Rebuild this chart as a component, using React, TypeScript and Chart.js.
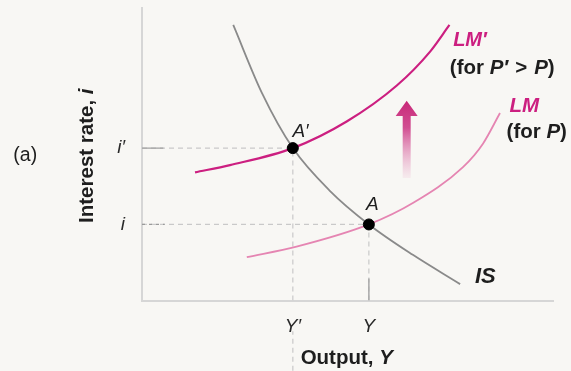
import React, { useEffect, useRef } from "react";
import { Chart, registerables } from "chart.js";

Chart.register(...registerables);

// ---- data (abstract units: output 0..100, interest rate 0..100) ----
const IS_X = [22.2, 29.2, 36.7, 45.7, 55.2, 65.9, 77.4];
const IS_Y = [94.2, 70.9, 52.1, 37.5, 26.0, 15.6, 5.6];

const LMP_X = [12.9, 21.4, 36.7, 49.8, 62.0, 70.1, 74.8];
const LMP_Y = [43.8, 46.3, 52.1, 61.2, 73.5, 85.1, 94.2];

const LM_X = [25.5, 37.6, 55.2, 65.9, 78.1, 83.0, 87.1];
const LM_Y = [14.8, 18.4, 26.0, 33.3, 45.6, 53.7, 64.1];

const EQ_X = [36.7, 55.2]; // Y', Y
const EQ_Y = [52.1, 26.0]; // i', i

const X_TICK_VALUES = [36.7, 55.2];
const X_TICK_LABELS = ["Y\u2032", "Y"];
const Y_TICK_VALUES = [26.0, 52.1];
const Y_TICK_LABELS = ["i", "i\u2032"];

const FONT = '"Liberation Sans", Arial, Helvetica, sans-serif';
const BG = "#f8f7f4";
const MAGENTA = "#cc1f80";
const PINK = "#e585b2";
const TEXT = "#1e1e1e";

const pts = (xs: number[], ys: number[]) => xs.map((x, i) => ({ x, y: ys[i] }));

type Run = { t: string; f: string; c?: string };

function drawRuns(ctx: CanvasRenderingContext2D, runs: Run[], x: number, y: number, align: "left" | "center" = "left", color = TEXT) {
  let total = 0;
  for (const r of runs) {
    ctx.font = r.f;
    total += ctx.measureText(r.t).width;
  }
  let cx = align === "center" ? x - total / 2 : x;
  ctx.textAlign = "left";
  for (const r of runs) {
    ctx.font = r.f;
    ctx.fillStyle = r.c || color;
    ctx.fillText(r.t, cx, y);
    cx += ctx.measureText(r.t).width;
  }
}

const annotationPlugin = {
  id: "islmAnnotations",
  beforeDraw(chart: any) {
    const { ctx, width, height } = chart;
    ctx.save();
    ctx.fillStyle = BG;
    ctx.fillRect(0, 0, width, height);
    ctx.restore();
  },
  afterDraw(chart: any) {
    const ctx: CanvasRenderingContext2D = chart.ctx;
    const xs = chart.scales.x;
    const ys = chart.scales.y;
    const px = (v: number) => xs.getPixelForValue(v);
    const py = (v: number) => ys.getPixelForValue(v);
    const b = (s: number) => `bold ${s}px ${FONT}`;
    const bi = (s: number) => `italic bold ${s}px ${FONT}`;
    const it = (s: number) => `italic ${s}px ${FONT}`;
    const n = (s: number) => `${s}px ${FONT}`;

    ctx.save();
    ctx.textBaseline = "alphabetic";

    // Arrow (shift of LM upward)
    const ax = px(64.4);
    const tip = py(68.3);
    const headBase = py(63.1);
    const tail = py(41.9);
    const grad = ctx.createLinearGradient(0, tip, 0, tail);
    grad.addColorStop(0, "rgba(200,40,120,1)");
    grad.addColorStop(0.35, "rgba(205,60,135,0.9)");
    grad.addColorStop(1, "rgba(230,150,190,0.12)");
    ctx.fillStyle = grad;
    ctx.beginPath();
    ctx.moveTo(ax, tip);
    ctx.lineTo(ax + 11, headBase);
    ctx.lineTo(ax + 4, headBase);
    ctx.lineTo(ax + 4, tail);
    ctx.lineTo(ax - 4, tail);
    ctx.lineTo(ax - 4, headBase);
    ctx.lineTo(ax - 11, headBase);
    ctx.closePath();
    ctx.fill();

    // Curve labels
    drawRuns(ctx, [{ t: "LM\u2032", f: bi(20) }], px(75.7), py(87.1), "left", MAGENTA);
    drawRuns(
      ctx,
      [
        { t: "(for ", f: b(20.5) },
        { t: "P\u2032", f: bi(20.5) },
        { t: " ", f: b(25) },
        { t: ">", f: b(20.5) },
        { t: " ", f: b(25) },
        { t: "P", f: bi(20.5) },
        { t: ")", f: b(20.5) },
      ],
      px(74.9),
      py(77.3)
    );
    drawRuns(ctx, [{ t: "LM", f: bi(20.5) }], px(89.4), py(64.5), "left", MAGENTA);
    drawRuns(
      ctx,
      [
        { t: "(for ", f: b(20.5) },
        { t: "P", f: bi(20.5) },
        { t: ")", f: b(20.5) },
      ],
      px(88.7),
      py(55.5)
    );
    drawRuns(ctx, [{ t: "IS", f: bi(22) }], px(81.0), py(5.9));

    // Point labels
    drawRuns(ctx, [{ t: "A\u2032", f: it(19) }], px(36.6), py(56.0));
    drawRuns(ctx, [{ t: "A", f: it(19) }], px(54.5), py(30.9));

    // Axis titles
    drawRuns(
      ctx,
      [
        { t: "Output, ", f: b(20.5) },
        { t: "Y", f: bi(20.5) },
      ],
      px(38.6),
      py(-21.7)
    );
    ctx.save();
    ctx.translate(px(-13.3), py(49.5));
    ctx.rotate(-Math.PI / 2);
    ctx.textBaseline = "middle";
    drawRuns(
      ctx,
      [
        { t: "Interest rate, ", f: b(20.5) },
        { t: "i", f: bi(20.5) },
      ],
      0,
      0,
      "center"
    );
    ctx.restore();

    ctx.textBaseline = "middle";
    drawRuns(ctx, [{ t: "(a)", f: n(19.5) }], px(-31.3), py(49.7));
    ctx.restore();
  },
};

export default function App() {
  const ref = useRef<HTMLCanvasElement | null>(null);

  useEffect(() => {
    if (!ref.current) return;
    const dash = "#c9c9c9";
    const chart = new Chart(ref.current, {
      type: "line",
      data: {
        datasets: [
          {
            label: "Equilibria",
            data: pts(EQ_X, EQ_Y),
            showLine: false,
            pointRadius: 5.5,
            pointBackgroundColor: "#000",
            pointBorderColor: "#000",
            order: 0,
          },
          {
            label: "IS",
            data: pts(IS_X, IS_Y),
            borderColor: "#8a8a8a",
            borderWidth: 1.8,
            pointRadius: 0,
            cubicInterpolationMode: "monotone",
            order: 1,
          },
          {
            label: "LM'",
            data: pts(LMP_X, LMP_Y),
            borderColor: MAGENTA,
            borderWidth: 2.2,
            pointRadius: 0,
            cubicInterpolationMode: "monotone",
            order: 2,
          },
          {
            label: "LM",
            data: pts(LM_X, LM_Y),
            borderColor: PINK,
            borderWidth: 1.8,
            pointRadius: 0,
            cubicInterpolationMode: "monotone",
            order: 3,
          },
          {
            label: "i' guide",
            data: [{ x: 0, y: EQ_Y[0] }, { x: EQ_X[0], y: EQ_Y[0] }],
            borderColor: dash,
            borderWidth: 1.2,
            borderDash: [5, 4],
            pointRadius: 0,
            order: 5,
          },
          {
            label: "i guide",
            data: [{ x: 0, y: EQ_Y[1] }, { x: EQ_X[1], y: EQ_Y[1] }],
            borderColor: dash,
            borderWidth: 1.2,
            borderDash: [5, 4],
            pointRadius: 0,
            order: 5,
          },
          {
            label: "Y' guide",
            data: [{ x: EQ_X[0], y: 0 }, { x: EQ_X[0], y: EQ_Y[0] }],
            borderColor: dash,
            borderWidth: 1.2,
            borderDash: [5, 4],
            pointRadius: 0,
            order: 5,
          },
          {
            label: "Y' guide below",
            data: [{ x: EQ_X[0], y: -24 }, { x: EQ_X[0], y: -10.5 }],
            borderColor: dash,
            borderWidth: 1.2,
            borderDash: [5, 4],
            pointRadius: 0,
            clip: false,
            order: 5,
          },
          {
            label: "Y guide",
            data: [{ x: EQ_X[1], y: 0 }, { x: EQ_X[1], y: EQ_Y[1] }],
            borderColor: dash,
            borderWidth: 1.2,
            borderDash: [5, 4],
            pointRadius: 0,
            order: 5,
          },
          {
            label: "i' mark",
            data: [{ x: 0, y: EQ_Y[0] }, { x: 5.2, y: EQ_Y[0] }],
            borderColor: "#a0a0a0",
            borderWidth: 1.3,
            pointRadius: 0,
            order: 4,
          },
          {
            label: "i mark",
            data: [{ x: 0, y: EQ_Y[1] }, { x: 5.5, y: EQ_Y[1] }],
            borderColor: "#9a9a9a",
            borderWidth: 1.3,
            borderDash: [3, 4],
            pointRadius: 0,
            order: 4,
          },
          {
            label: "Y mark",
            data: [{ x: EQ_X[1], y: 0 }, { x: EQ_X[1], y: 7.5 }],
            borderColor: "#a8a8a8",
            borderWidth: 1.5,
            pointRadius: 0,
            order: 4,
          },
        ] as any,
      },
      options: {
        animation: false,
        responsive: false,
        maintainAspectRatio: false,
        parsing: false as any,
        layout: { autoPadding: false, padding: { top: 8, right: 18, left: 0, bottom: 0 } },
        plugins: { legend: { display: false }, tooltip: { enabled: false } },
        scales: {
          x: {
            type: "linear",
            min: 0,
            max: 100,
            grid: { display: false },
            border: { display: true, color: "#d6d6d6", width: 2 },
            afterBuildTicks: (s: any) => {
              s.ticks = X_TICK_VALUES.map((v) => ({ value: v }));
            },
            afterFit: (s: any) => {
              s.height = 70.5;
              s.paddingLeft = 0;
              s.paddingRight = 0;
            },
            ticks: {
              autoSkip: false,
              maxRotation: 0,
              padding: 7,
              color: "#2a2a2a",
              font: { family: FONT, size: 19, style: "italic" },
              callback: (_v: any, i: number) => X_TICK_LABELS[i],
            },
          },
          y: {
            type: "linear",
            min: 0,
            max: 100,
            grid: { display: false },
            border: { display: true, color: "#d6d6d6", width: 2 },
            afterBuildTicks: (s: any) => {
              s.ticks = Y_TICK_VALUES.map((v) => ({ value: v }));
            },
            afterFit: (s: any) => {
              s.width = 142;
              s.paddingTop = 0;
              s.paddingBottom = 0;
            },
            ticks: {
              autoSkip: false,
              padding: 9,
              color: "#2a2a2a",
              font: { family: FONT, size: 19, style: "italic" },
              callback: (_v: any, i: number) => Y_TICK_LABELS[i],
            },
          },
        },
      } as any,
      plugins: [annotationPlugin],
    });
    return () => chart.destroy();
  }, []);

  return (
    <div style={{ position: "fixed", left: 0, top: 0, width: 571, height: 371, background: BG }}>
      <canvas ref={ref} width={571} height={371} style={{ display: "block" }} />
    </div>
  );
}
